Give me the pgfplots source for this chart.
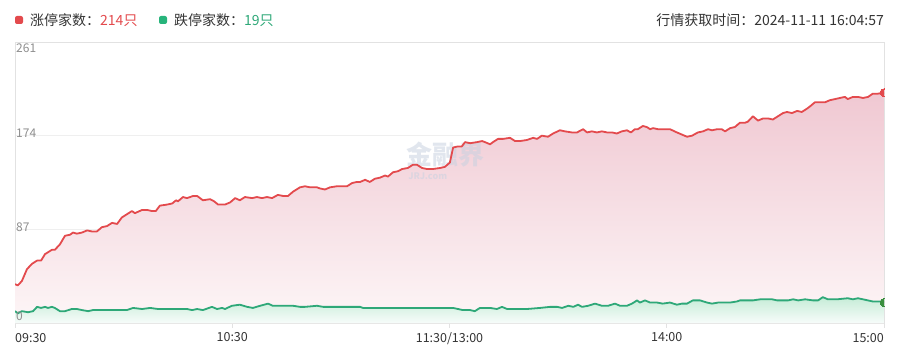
\documentclass[border=0pt]{standalone}
\usepackage{fontspec}
\setmainfont{Noto Sans CJK SC}
\usepackage{pgfplots}
\pgfplotsset{compat=1.18}
\usepackage{pgfplotstable}

\definecolor{upred}{HTML}{E34A4D}
\definecolor{downgreen}{HTML}{2EA878}
\definecolor{dotgreen}{HTML}{27B47B}
\definecolor{enddotgreen}{HTML}{3A8F3F}
\definecolor{gridc}{HTML}{EFEFEF}
\definecolor{axisc}{HTML}{E2E2E2}
\definecolor{txt}{HTML}{333333}
\definecolor{ylab}{HTML}{8E8E8E}
\definecolor{redtop}{HTML}{F0C8D2}
\definecolor{redbot}{HTML}{FDF6F7}
\definecolor{greentop}{HTML}{C6ECD7}
\definecolor{greenbot}{HTML}{F7FCFA}
\definecolor{wm}{HTML}{C9D2E0}

\pgfplotstableread{
m v
0.0 36
0.8 35
1.9 39
3.3 50
4.7 55
6.1 58
7.2 58
8.3 64
10.2 68
11.0 68
12.4 73
13.8 81
15.2 82
16.0 84
17.1 83
18.5 84
19.9 86
21.3 85
22.6 85
24.0 89
25.4 90
26.8 93
28.2 92
29.5 98
30.9 101
32.3 104
33.1 102
35.1 105
36.5 105
37.8 104
38.9 104
40.0 109
42.0 110
43.4 111
44.5 114
45.0 113
46.4 117
47.5 116
49.2 118
50.3 118
51.9 114
53.9 115
55.0 113
56.1 110
58.0 110
59.4 112
60.8 116
62.1 114
63.5 117
65.5 116
66.8 117
68.2 116
69.6 117
71.0 116
72.6 119
74.0 118
75.4 118
76.8 122
78.7 126
80.1 127
81.5 126
83.4 126
84.2 125
85.6 124
87.0 126
88.9 127
90.3 127
91.7 127
93.1 130
94.4 131
95.3 131
96.7 133
98.0 131
99.4 134
100.8 135
102.2 137
103.0 136
104.4 140
105.8 141
106.9 143
108.5 144
109.9 147
111.0 147
112.4 144
113.8 143
115.4 143
117.4 144
118.7 145
120.1 149
121.0 163
122.3 164
123.4 164
124.3 168
125.7 167
127.6 168
129.0 169
129.8 168
131.2 166
132.0 168
133.4 171
134.8 171
136.7 172
138.1 169
139.5 169
141.4 170
143.1 172
144.2 171
145.5 174
147.2 173
148.6 176
150.5 179
151.9 178
153.8 177
155.2 177
156.9 180
158.0 177
159.3 178
160.7 177
162.1 178
163.5 177
164.9 177
166.2 176
167.6 178
169.0 179
170.1 177
171.2 180
172.0 180
173.4 183
174.5 182
175.4 180
176.2 181
177.6 180
179.0 180
180.9 180
182.8 177
184.2 175
185.6 173
187.0 174
188.6 177
190.0 178
191.4 180
192.5 179
193.9 180
195.2 180
196.1 178
197.5 181
198.8 182
200.2 186
201.6 186
202.4 187
203.8 192
205.2 188
206.6 190
208.0 190
209.3 189
210.7 192
212.1 195
213.2 196
214.6 195
216.0 197
217.3 196
218.7 199
219.5 201
220.9 205
222.3 205
223.7 205
225.1 207
226.5 208
227.8 209
229.2 210
230.0 208
231.4 210
232.8 210
234.2 209
235.6 210
236.9 213
238.3 213
240.0 214
}\updata

\pgfplotstableread{
m v
0.0 11
0.8 9
1.9 11
3.6 10
5.0 11
6.1 15
7.2 14
8.3 15
9.1 14
10.2 15
11.0 14
12.4 11
13.8 11
15.7 13
17.1 13
18.5 12
20.2 11
21.5 12
25.4 12
30.9 12
32.6 14
35.1 13
37.3 14
39.5 13
44.7 13
47.5 13
48.9 12
50.3 13
51.9 12
54.4 15
55.8 13
57.2 14
58.0 13
59.9 16
62.1 17
64.1 15
65.7 14
67.7 16
69.9 18
71.2 16
76.8 16
78.7 15
80.1 15
83.4 16
85.1 15
95.3 15
96.1 14
120.1 14
121.0 14
123.7 12
125.7 12
127.0 11
128.4 14
131.2 14
133.1 13
134.5 15
135.9 13
137.3 13
141.4 13
145.0 14
147.8 15
149.7 15
151.1 14
152.8 16
154.2 15
155.5 17
156.6 15
158.3 16
160.2 18
162.1 16
163.8 16
165.7 18
167.1 16
169.0 16
170.4 18
171.8 21
172.6 19
174.0 21
175.4 19
177.3 19
178.9 18
180.9 19
182.8 17
184.2 18
185.6 18
187.2 21
189.2 21
191.1 19
192.5 18
194.2 19
196.1 19
197.5 19
199.4 20
200.2 21
203.8 21
205.8 22
207.8 22
209.1 22
210.5 21
212.1 21
213.5 21
214.9 22
216.3 21
218.2 22
220.4 21
221.8 21
223.1 24
224.5 22
227.0 22
230.0 23
231.4 22
232.8 23
234.2 22
236.9 20
239.7 20
240.0 19
}\downdata

\begin{document}
\begin{tikzpicture}[x=1pt,y=1pt]
\useasboundingbox (0,0) rectangle (915,362);
% header
\fill[upred, rounded corners=2pt] (15,338) rectangle (23,346);
\node[anchor=west, inner sep=0, font=\fontsize{14}{16}\selectfont, text=txt] at (30,342) {涨停家数：\textcolor{upred}{214只}};
\fill[dotgreen, rounded corners=2pt] (159,338) rectangle (167,346);
\node[anchor=west, inner sep=0, font=\fontsize{14}{16}\selectfont, text=txt] at (174,342) {跌停家数：\textcolor{downgreen}{19只}};
\node[anchor=east, inner sep=0, font=\fontsize{14}{16}\selectfont, text=txt] at (884,342) {行情获取时间：2024-11-11 16:04:57};
\begin{axis}[
  at={(15pt,39pt)}, anchor=south west,
  scale only axis, width=869pt, height=281pt,
  xmin=0, xmax=240, ymin=0, ymax=261,
  axis line style={draw=axisc, line width=0.8pt},
  xtick={0,60,120,180,240},
  xticklabels={,10:30,11:30/13:00,14:00,},
  xtick pos=bottom, tick align=outside,
  major tick length=5pt,
  xtick style={draw=axisc, line width=0.8pt},
  ytick={87,174},
  yticklabels={,},
  ytick style={draw=none},
  ymajorgrids,
  grid style={draw=gridc, line width=0.7pt},
  xticklabel style={font=\fontsize{12.5}{14}\selectfont, text=txt, yshift=-1pt},
  clip mode=global,
  clip marker paths=true,
]
\addplot[draw=none, top color=redtop, bottom color=redbot] table[x=m,y=v]{\updata} \closedcycle;
\addplot[draw=none, top color=greentop, bottom color=greenbot] table[x=m,y=v]{\downdata} \closedcycle;
\node[font=\bfseries\fontsize{26}{26}\selectfont, text=wm, opacity=0.55, inner sep=0] at (axis cs:119,156) {金融界};
\node[font=\bfseries\fontsize{9}{9}\selectfont, text=wm, opacity=0.55, inner sep=0] at (axis cs:114,136) {JRJ.com};
\addplot[upred, line width=1.8pt, line join=round] table[x=m,y=v]{\updata};
\addplot[downgreen, line width=1.8pt, line join=round] table[x=m,y=v]{\downdata};
\addplot[only marks, mark=*, mark size=4pt, mark options={fill=upred, draw=upred, line width=0pt}] coordinates {(240,214)};
\addplot[only marks, mark=*, mark size=4pt, mark options={fill=enddotgreen, draw=enddotgreen, line width=0pt}] coordinates {(240,19)};
\node[anchor=north west, inner sep=0, font=\fontsize{12}{14}\selectfont, text=ylab] at (axis cs:0,261) [xshift=1pt, yshift=-2pt] {261};
\node[anchor=west, inner sep=0, font=\fontsize{12}{14}\selectfont, text=ylab] at (axis cs:0,174) [xshift=1pt, yshift=2pt] {174};
\node[anchor=west, inner sep=0, font=\fontsize{12}{14}\selectfont, text=ylab] at (axis cs:0,87) [xshift=1pt, yshift=2pt] {87};
\node[anchor=south west, inner sep=0, font=\fontsize{12}{14}\selectfont, text=ylab] at (axis cs:0,0) [xshift=1pt, yshift=2pt] {0};
\end{axis}
\node[anchor=base west, inner sep=0, font=\fontsize{12.5}{14}\selectfont, text=txt] at (15,20) {09:30};
\node[anchor=base east, inner sep=0, font=\fontsize{12.5}{14}\selectfont, text=txt] at (884,20) {15:00};
\end{tikzpicture}
\end{document}
